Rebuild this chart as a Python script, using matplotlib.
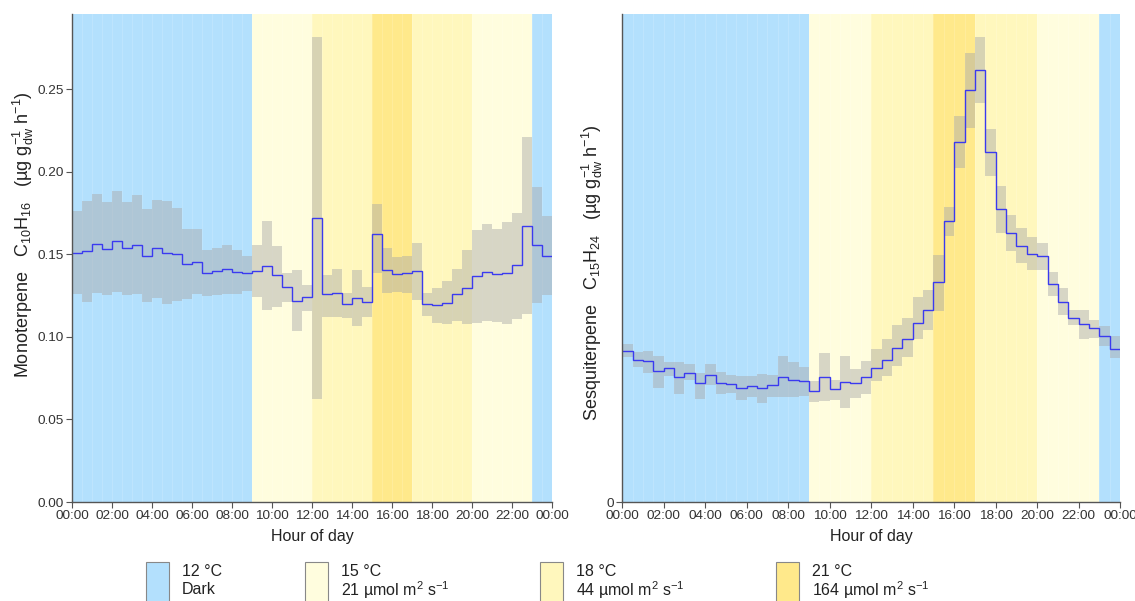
import numpy as np
import matplotlib
matplotlib.use("Agg")
import matplotlib.pyplot as plt
from matplotlib.patches import Rectangle

plt.rcParams['font.family'] = ['Liberation Sans', 'DejaVu Sans']
plt.rcParams['mathtext.fontset'] = 'custom'
plt.rcParams['mathtext.rm'] = 'Liberation Sans'
plt.rcParams['mathtext.it'] = 'Liberation Sans:italic'
plt.rcParams['mathtext.bf'] = 'Liberation Sans:bold'

# half-hour bins over the day
bin_edges = np.arange(0, 24.5, 0.5)

# chamber regimes (hours)
period_start = [0, 9, 12, 15, 17, 20, 23]
period_end = [9, 12, 15, 17, 20, 23, 24]
period_cond = [0, 1, 2, 3, 2, 1, 0]

cond_colors = ['#b3e0fd', '#fffdde', '#fff7bd', '#ffe98b']
cond_temp = ['12 °C', '15 °C', '18 °C', '21 °C']
cond_light = ['Dark', '21 µmol m$^2$ s$^{-1}$', '44 µmol m$^2$ s$^{-1}$',
              '164 µmol m$^2$ s$^{-1}$']

# monoterpene emission (µg g_dw^-1 h^-1)
mono_mean = [0.1505, 0.1517, 0.1565, 0.1535, 0.1583, 0.1539, 0.1559, 0.1492,
             0.1537, 0.1509, 0.1500, 0.1444, 0.1454, 0.1388, 0.1398, 0.1410,
             0.1394, 0.1388, 0.1400, 0.1432, 0.1372, 0.1303, 0.1220, 0.1243,
             0.1720, 0.1257, 0.1263, 0.1196, 0.1234, 0.1214, 0.1624, 0.1404,
             0.1380, 0.1386, 0.1396, 0.1202, 0.1192, 0.1206, 0.1257, 0.1297,
             0.1367, 0.1392, 0.1378, 0.1386, 0.1434, 0.1674, 0.1559, 0.1492]
mono_upper = [0.1765, 0.1823, 0.1866, 0.1819, 0.1886, 0.1819, 0.1860, 0.1773,
              0.1830, 0.1820, 0.1779, 0.1652, 0.1652, 0.1529, 0.1539, 0.1559,
              0.1525, 0.1492, 0.1557, 0.1704, 0.1549, 0.1388, 0.1404, 0.1317,
              0.2813, 0.1376, 0.1408, 0.1263, 0.1404, 0.1303, 0.1807, 0.1539,
              0.1485, 0.1492, 0.1570, 0.1267, 0.1297, 0.1337, 0.1412, 0.1523,
              0.1646, 0.1682, 0.1656, 0.1696, 0.1753, 0.2211, 0.1910, 0.1730]
mono_lower = [0.1257, 0.1210, 0.1263, 0.1251, 0.1270, 0.1255, 0.1257, 0.1210,
              0.1238, 0.1196, 0.1220, 0.1230, 0.1257, 0.1246, 0.1252, 0.1261,
              0.1257, 0.1275, 0.1243, 0.1160, 0.1182, 0.1210, 0.1033, 0.1156,
              0.0626, 0.1122, 0.1120, 0.1116, 0.1065, 0.1122, 0.1388, 0.1267,
              0.1270, 0.1267, 0.1226, 0.1125, 0.1085, 0.1075, 0.1095, 0.1075,
              0.1085, 0.1095, 0.1093, 0.1075, 0.1110, 0.1136, 0.1206, 0.1251]

# sesquiterpene emission (relative units)
sesq_mean = [0.310, 0.291, 0.288, 0.268, 0.274, 0.256, 0.264, 0.243,
             0.260, 0.244, 0.241, 0.234, 0.238, 0.233, 0.239, 0.257,
             0.250, 0.248, 0.228, 0.256, 0.231, 0.245, 0.243, 0.256,
             0.274, 0.291, 0.315, 0.335, 0.367, 0.393, 0.450, 0.575,
             0.737, 0.844, 0.885, 0.717, 0.601, 0.552, 0.525, 0.508,
             0.504, 0.446, 0.409, 0.378, 0.365, 0.356, 0.340, 0.314]
sesq_upper = [0.324, 0.307, 0.310, 0.299, 0.286, 0.286, 0.283, 0.264,
              0.282, 0.266, 0.260, 0.258, 0.259, 0.263, 0.260, 0.299,
              0.286, 0.277, 0.249, 0.305, 0.251, 0.299, 0.273, 0.288,
              0.314, 0.334, 0.363, 0.378, 0.421, 0.435, 0.506, 0.605,
              0.791, 0.920, 0.952, 0.765, 0.647, 0.588, 0.562, 0.543,
              0.530, 0.472, 0.438, 0.393, 0.393, 0.373, 0.360, 0.340]
sesq_lower = [0.297, 0.276, 0.264, 0.234, 0.259, 0.222, 0.251, 0.211,
              0.239, 0.222, 0.224, 0.210, 0.215, 0.203, 0.215, 0.215,
              0.215, 0.218, 0.205, 0.207, 0.210, 0.192, 0.213, 0.222,
              0.249, 0.259, 0.279, 0.297, 0.335, 0.352, 0.392, 0.545,
              0.684, 0.766, 0.817, 0.668, 0.552, 0.514, 0.489, 0.476,
              0.476, 0.423, 0.383, 0.363, 0.335, 0.337, 0.320, 0.295]

hour_ticks = np.arange(0, 25, 2)
hour_labels = ['%02d:00' % (h % 24) for h in hour_ticks]

spine_col = '#555555'
text_col = '#222222'


def draw_panel(ax, mean, lower, upper, ylim, yticks, yticklabels, ylabel, label_y):
    for s, e, c in zip(period_start, period_end, period_cond):
        ax.axvspan(s, e, color=cond_colors[c], lw=0, zorder=0)
    # faint seams between the half-hour background bars
    for x in bin_edges[1:-1]:
        ax.axvline(x, color='white', lw=0.6, alpha=0.18, zorder=0.5)
    ax.stairs(upper, bin_edges, baseline=lower, fill=True,
              color='#a8a8a8', alpha=0.45, lw=0, zorder=1)
    ax.stairs(mean, bin_edges, baseline=None, color='#3a3af0', lw=1.0, zorder=2)
    ax.set_xlim(0, 24)
    ax.set_ylim(*ylim)
    ax.set_xticks(hour_ticks)
    ax.set_xticklabels(hour_labels)
    ax.set_yticks(yticks)
    ax.set_yticklabels(yticklabels)
    for side in ['top', 'right']:
        ax.spines[side].set_visible(False)
    for side in ['left', 'bottom']:
        ax.spines[side].set_color(spine_col)
        ax.spines[side].set_linewidth(1.0)
    ax.tick_params(axis='both', colors=spine_col, labelcolor='#333333',
                   labelsize=9.7, length=4, width=0.8, pad=2)
    ax.set_xlabel('Hour of day', fontsize=11.5, color=text_col, labelpad=5)
    ax.set_ylabel(ylabel, fontsize=13, color=text_col, labelpad=1)
    ax.yaxis.label.set_y(label_y)


fig = plt.figure(figsize=(11.35, 6.01), dpi=100)
ax1 = fig.add_axes([0.0634, 0.1647, 0.4229, 0.8120])
ax2 = fig.add_axes([0.5482, 0.1647, 0.4388, 0.8120])

draw_panel(ax1, mono_mean, mono_lower, mono_upper, (0, 0.2955),
           [0, 0.05, 0.10, 0.15, 0.20, 0.25],
           ['0.00', '0.05', '0.10', '0.15', '0.20', '0.25'],
           'Monoterpene   C$_{10}$H$_{16}$   (µg g$_{\\mathrm{dw}}^{-1}$ h$^{-1}$)',
           0.547)
draw_panel(ax2, sesq_mean, sesq_lower, sesq_upper, (0, 1.0),
           [0], ['0'],
           'Sesquiterpene   C$_{15}$H$_{24}$   (µg g$_{\\mathrm{dw}}^{-1}$ h$^{-1}$)',
           0.47)

# legend row under the panels
W, H = 1135.0, 601.0
key_x = [146, 305, 540, 776]
for i, x in enumerate(key_x):
    fig.add_artist(Rectangle((x / W, 1 - 612 / H), 23 / W, 50 / H,
                             transform=fig.transFigure, facecolor=cond_colors[i],
                             edgecolor='#888888', lw=0.8, clip_on=False))
    fig.text((x + 36) / W, 1 - 572 / H, cond_temp[i], fontsize=11.5,
             color=text_col, va='center', ha='left')
    fig.text((x + 36) / W, 1 - 590 / H, cond_light[i], fontsize=11.5,
             color=text_col, va='center', ha='left')

fig.savefig('out.png', dpi=100)
